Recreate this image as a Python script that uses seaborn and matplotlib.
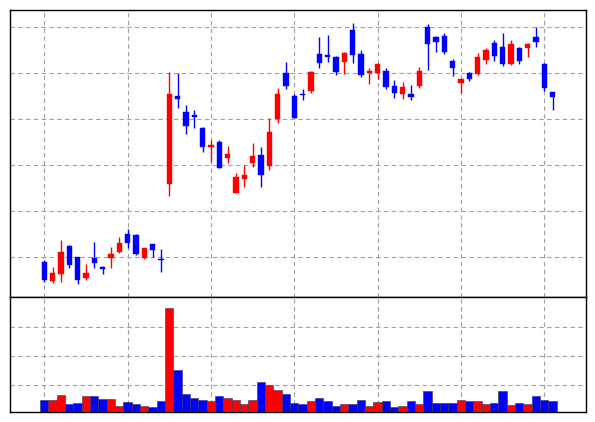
import matplotlib
matplotlib.use("Agg")
import matplotlib.pyplot as plt
import seaborn as sns
import numpy as np
import pandas as pd

# ---- data ----
opens = [189.1, 148.6, 163.0, 223.9, 200.0, 154.3, 197.8, 179.0, 197.1, 210.1,
         249.3, 247.8, 198.6, 227.5, 196.4, 358.0, 550.0, 515.9, 508.7, 481.2,
         438.4, 450.7, 414.5, 339.9, 369.6, 403.6, 421.7, 397.8, 499.3, 600.7,
         550.0, 555.1, 561.6, 641.3, 639.1, 635.5, 624.6, 693.5, 640.6, 600.7,
         599.3, 604.3, 571.7, 554.3, 554.3, 572.5, 700.7, 679.0, 680.4, 626.8,
         579.0, 599.3, 597.8, 628.3, 665.9, 657.2, 619.6, 655.1, 653.6, 677.5,
         619.6, 558.7]
highs = [193.5, 179.0, 237.0, 226.1, 201.0, 184.1, 231.9, 181.2, 222.5, 242.8,
         260.9, 249.0, 220.0, 228.5, 216.7, 602.9, 599.3, 530.4, 519.6, 483.3,
         454.3, 454.3, 442.0, 383.3, 400.0, 448.6, 439.9, 501.4, 566.7, 624.6,
         554.3, 564.5, 604.3, 677.5, 682.6, 637.0, 646.4, 708.0, 650.0, 610.1,
         621.0, 610.1, 584.8, 581.2, 573.9, 613.8, 705.8, 680.0, 686.2, 629.7,
         588.4, 602.9, 642.8, 653.6, 671.7, 686.2, 671.7, 657.2, 665.9, 699.3,
         622.5, 559.4]
lows = [146.4, 142.8, 146.4, 176.8, 140.6, 150.0, 176.8, 162.3, 175.4, 208.0,
        218.8, 204.3, 194.9, 200.7, 168.1, 332.6, 523.2, 467.4, 479.7, 429.0,
        407.2, 392.8, 403.6, 338.4, 352.9, 396.4, 352.9, 389.1, 490.6, 564.5,
        501.4, 541.3, 555.8, 610.1, 624.6, 595.7, 597.8, 621.0, 592.0, 576.1,
        587.0, 564.5, 544.9, 543.5, 541.3, 566.7, 606.5, 644.9, 640.6, 593.5,
        555.8, 582.6, 595.7, 619.6, 626.8, 615.9, 618.5, 619.6, 634.1, 657.2,
        561.6, 520.3]
closes = [150.0, 165.9, 210.9, 182.6, 150.0, 164.5, 186.2, 173.2, 206.5, 229.7,
          229.7, 206.5, 218.8, 214.5, 194.2, 553.6, 542.8, 485.5, 503.6, 439.9,
          443.5, 394.2, 423.2, 373.2, 378.3, 419.6, 378.3, 472.5, 554.3, 571.7,
          502.9, 552.2, 602.9, 622.5, 635.5, 602.9, 644.2, 639.1, 595.7, 605.1,
          619.6, 570.3, 557.2, 570.3, 548.6, 604.3, 662.3, 668.1, 644.9, 611.6,
          587.0, 587.0, 634.1, 650.0, 637.0, 619.6, 663.0, 626.1, 662.3, 668.1,
          566.7, 548.6]
volumes = [0.48, 0.48, 0.66, 0.37, 0.40, 0.62, 0.62, 0.52, 0.52, 0.30,
           0.41, 0.34, 0.30, 0.24, 0.45, 3.66, 1.52, 0.71, 0.55, 0.48,
           0.45, 0.62, 0.55, 0.48, 0.37, 0.48, 1.10, 1.02, 0.83, 0.69,
           0.40, 0.37, 0.45, 0.55, 0.45, 0.30, 0.34, 0.37, 0.48, 0.30,
           0.41, 0.45, 0.26, 0.30, 0.45, 0.37, 0.79, 0.40, 0.40, 0.40,
           0.48, 0.45, 0.45, 0.37, 0.40, 0.79, 0.33, 0.40, 0.37, 0.62,
           0.48, 0.45]
price_ticks = [200, 300, 400, 500, 600, 700]
volume_ticks = [1, 2, 3]

UP = "#ff0000"
DOWN = "#0000ff"

n = len(opens)
df = pd.DataFrame({"idx": np.arange(n), "open": opens, "high": highs,
                   "low": lows, "close": closes, "volume": volumes})
df["dir"] = np.where(df["close"] >= df["open"], "up", "down")

sns.set_style("white")
fig = plt.figure(figsize=(5.95, 4.22), dpi=100)
W, H = 595, 422
left, right = 10 / W, 586 / W
y_top, y_mid, y_bot = 10, 297, 412.3
ax1 = fig.add_axes([left, 1 - y_mid / H, right - left, (y_mid - y_top) / H])
ax2 = fig.add_axes([left, 1 - y_bot / H, right - left, (y_bot - y_mid) / H])

grid_kw = dict(color="#a0a0a0", linestyle=(0, (4, 3)), linewidth=0.8)

# candlesticks
colors = [UP if d == "up" else DOWN for d in df["dir"]]
ax1.vlines(df["idx"], df["low"], df["high"], colors=colors, linewidth=1.0, zorder=3)
body_bottom = np.minimum(df["open"], df["close"])
body_h = np.maximum(np.abs(df["close"] - df["open"]), 1.5)
ax1.bar(df["idx"], body_h, bottom=body_bottom, width=0.64, color=colors,
        edgecolor=colors, linewidth=0.3, zorder=4)
ax1.set_xlim(-4.1, 65.0)
ax1.set_ylim(113, 737)
ax1.set_yticks(price_ticks)
ax1.set_xticks(np.arange(0, 61, 10))

# volume
sns.barplot(data=df, x="idx", y="volume", hue="dir", dodge=False, width=1.0,
            palette={"up": UP, "down": DOWN}, legend=False, ax=ax2,
            edgecolor="#333366", linewidth=0.4, zorder=3, saturation=1)
ax2.set_xlim(-4.1, 65.0)
ax2.set_ylim(0.07, 4.03)
ax2.set_yticks(volume_ticks)
ax2.set_xticks(np.arange(0, 61, 10))

for ax in (ax1, ax2):
    ax.grid(True, **grid_kw)
    ax.set_axisbelow(True)
    ax.tick_params(left=False, bottom=False, labelleft=False, labelbottom=False)
    ax.set_xlabel("")
    ax.set_ylabel("")
    for s in ax.spines.values():
        s.set_color("black")
        s.set_linewidth(1.0)
        s.set_visible(True)

fig.savefig("out.png", dpi=100)
